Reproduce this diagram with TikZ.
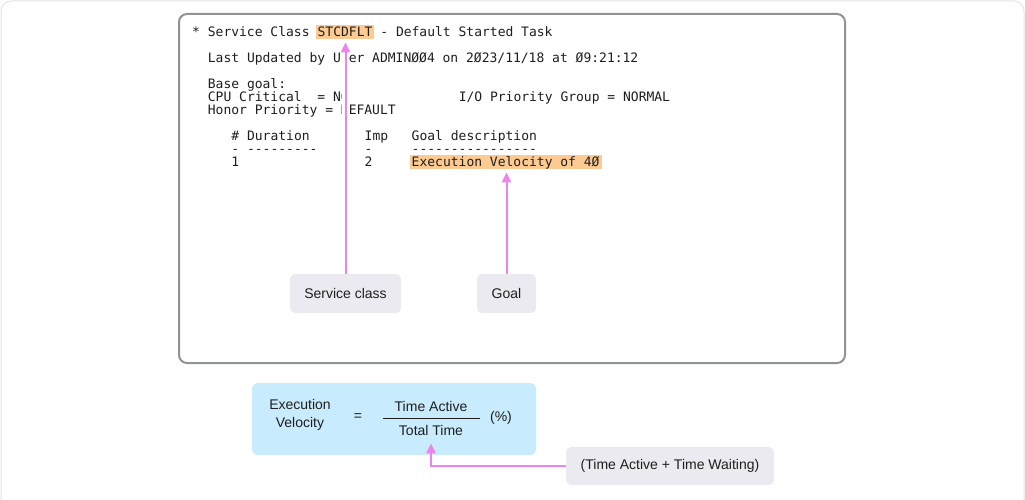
\documentclass[tikz,border=0pt]{standalone}
\usepackage{fontspec}
\setmainfont{Liberation Sans}
\setmonofont{DejaVu Sans Mono}
\usetikzlibrary{arrows.meta,positioning}

\definecolor{hlpeach}{RGB}{253,203,145}
\definecolor{tagfill}{RGB}{235,234,240}
\definecolor{formfill}{RGB}{200,236,253}
\definecolor{pointer}{RGB}{238,130,238}
\definecolor{frame}{RGB}{143,146,151}
\definecolor{outer}{RGB}{228,228,228}
\definecolor{ink}{RGB}{30,30,30}

% column of the console text
\newcommand{\colx}[1]{192+7.84*#1}
\newcommand{\rowy}[1]{36.7+13*#1}

\begin{document}
\begin{tikzpicture}[x=1pt,y=-1pt,
    mono/.style={anchor=base west, inner sep=0, text=ink,
      font=\ttfamily\fontsize{13}{13}\selectfont},
    hl/.style={mono, fill=hlpeach, inner xsep=2, inner ysep=1,
      text height=11, text depth=1.5},
    tag/.style={fill=tagfill, rounded corners=5, text=ink,
      font=\fontsize{14}{14}\selectfont, minimum height=39},
    formula/.style={text=ink, font=\fontsize{14}{18}\selectfont, inner sep=0},
    ptr/.style={draw=pointer, line width=2,
      -{Triangle[width=9,length=10]}},
    halo/.style={draw=white, line width=7}]

  \useasboundingbox (0,0) rectangle (1025,500);
  \draw[outer, line width=1, rounded corners=10] (1,1) rectangle (1024,520);

  % console panel
  \draw[frame, line width=2, rounded corners=8] (179,14) rectangle (845,363);

  \node[mono] (hdr) at ({\colx{0}}, {\rowy{0}}) {* Service Class};
  \node[hl] (stcdflt) at ({\colx{16}-2}, {\rowy{0}}) {STCDFLT};
  \node[mono] (hdrtail) at ({\colx{24}}, {\rowy{0}}) {- Default Started Task};

  \node[mono] (upd) at ({\colx{2}}, {\rowy{2}})
    {Last Updated by User ADMINØØ4 on 2Ø23/11/18 at Ø9:21:12};

  \node[mono] (base) at ({\colx{2}}, {\rowy{4}}) {Base goal:};
  \node[mono] (cpu) at ({\colx{2}}, {\rowy{5}}) {CPU Critical\ \ = NO};
  \node[mono] (iopg) at ({\colx{34}}, {\rowy{5}}) {I/O Priority Group = NORMAL};
  \node[mono] (honor) at ({\colx{2}}, {\rowy{6}}) {Honor Priority = DEFAULT};

  \node[mono] (hdur) at ({\colx{5}}, {\rowy{8}}) {\# Duration};
  \node[mono] (himp) at ({\colx{22}}, {\rowy{8}}) {Imp};
  \node[mono] (hgoal) at ({\colx{28}}, {\rowy{8}}) {Goal description};
  \node[mono] (ldur) at ({\colx{5}}, {\rowy{9}}) {- ---------};
  \node[mono] (limp) at ({\colx{22}}, {\rowy{9}}) {-};
  \node[mono] (lgoal) at ({\colx{28}}, {\rowy{9}}) {----------------};
  \node[mono] (vdur) at ({\colx{5}}, {\rowy{10}}) {1};
  \node[mono] (vimp) at ({\colx{22}}, {\rowy{10}}) {2};
  \node[hl] (velgoal) at ({\colx{28}-2}, {\rowy{10}}) {Execution Velocity of 4Ø};

  \node[tag, minimum width=111] (svcbox) at (345.5,293.5) {Service class};
  \node[tag, minimum width=59] (goalbox) at (506.5,293.5) {Goal};

  \draw[halo, shorten >=5] (svcbox.north) -- (svcbox.north |- stcdflt.south);
  \draw[ptr, shorten >=3] (svcbox.north) -- (svcbox.north |- stcdflt.south);
  \draw[ptr, shorten >=3] (goalbox.north) -- (goalbox.north |- velgoal.south);

  % formula
  \node[fill=formfill, rounded corners=6, minimum width=284, minimum height=72]
    (velbox) at (394,419) {};
  \node[formula, align=center] (velname) at (300,415) {Execution\\Velocity};
  \node[formula] (eq) at (358,417) {=};
  \node[formula, anchor=base] (tact) at (431,411) {Time Active};
  \node[formula, anchor=base] (ttot) at (431,435) {Total Time};
  \draw[ink, line width=1] (383,418) -- (480,418);
  \node[formula] (pct) at (501,418) {(\%)};

  \node[tag, minimum width=208, minimum height=38] (waitbox) at (670,466)
    {(Time Active + Time Waiting)};
  \draw[ptr, shorten >=8] (waitbox.west) -| (ttot.south);
\end{tikzpicture}
\end{document}
